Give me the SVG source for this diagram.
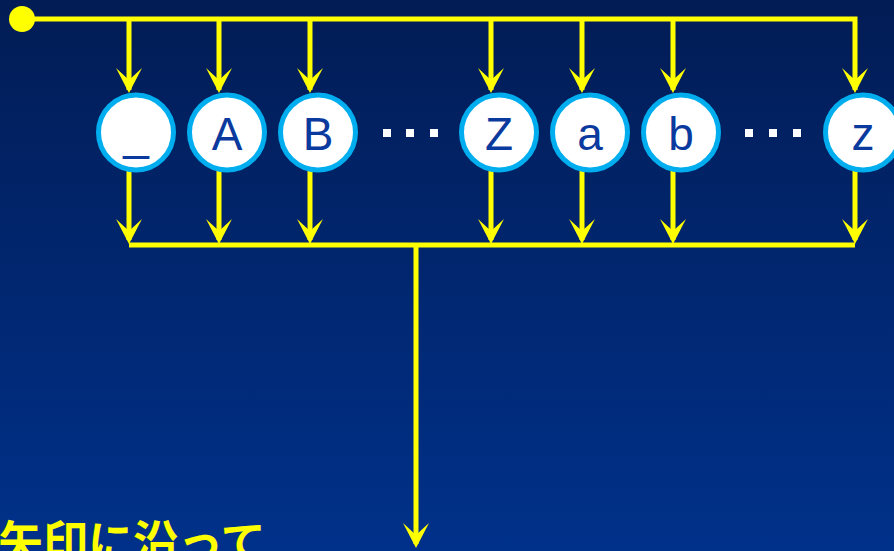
<svg xmlns="http://www.w3.org/2000/svg" width="894" height="551" viewBox="0 0 894 551">
<defs>
<linearGradient id="bg" x1="0" y1="0" x2="0" y2="1">
<stop offset="0" stop-color="#021C55"/>
<stop offset="1" stop-color="#00318A"/>
</linearGradient>
<path id="ah" d="M0,0 L-13,-25 L0,-13 L13,-25 Z" fill="#FFFF00"/>
<style>
.ln{stroke:#FFFF00;stroke-width:5;fill:none;stroke-linecap:butt}
.nd circle{fill:#FFFFFF;stroke:#00AEEF;stroke-width:5}
.nd text{font-family:"Liberation Sans",Arial,sans-serif;font-size:46px;fill:#0A3A9E;text-anchor:middle}
.dot{fill:#FFFFFF}
</style>
</defs>
<rect width="894" height="551" fill="url(#bg)"/>
<g id="connectors">
<circle cx="22" cy="19" r="13" fill="#FFFF00"/>
<polyline class="ln" points="22,19 855,19 855,90"/>
<line class="ln" x1="129" y1="19" x2="129" y2="90"/>
<line class="ln" x1="219" y1="19" x2="219" y2="90"/>
<line class="ln" x1="310" y1="19" x2="310" y2="90"/>
<line class="ln" x1="491" y1="19" x2="491" y2="90"/>
<line class="ln" x1="582" y1="19" x2="582" y2="90"/>
<line class="ln" x1="673" y1="19" x2="673" y2="90"/>
<use href="#ah" x="129" y="93"/>
<use href="#ah" x="219" y="93"/>
<use href="#ah" x="310" y="93"/>
<use href="#ah" x="491" y="93"/>
<use href="#ah" x="582" y="93"/>
<use href="#ah" x="673" y="93"/>
<use href="#ah" x="855" y="93"/>
<line class="ln" x1="129" y1="170" x2="129" y2="240"/>
<line class="ln" x1="219" y1="170" x2="219" y2="240"/>
<line class="ln" x1="310" y1="170" x2="310" y2="240"/>
<line class="ln" x1="491" y1="170" x2="491" y2="240"/>
<line class="ln" x1="582" y1="170" x2="582" y2="240"/>
<line class="ln" x1="673" y1="170" x2="673" y2="240"/>
<line class="ln" x1="855" y1="170" x2="855" y2="240"/>
<use href="#ah" x="129" y="244"/>
<use href="#ah" x="219" y="244"/>
<use href="#ah" x="310" y="244"/>
<use href="#ah" x="491" y="244"/>
<use href="#ah" x="582" y="244"/>
<use href="#ah" x="673" y="244"/>
<use href="#ah" x="855" y="244"/>
<line class="ln" x1="129" y1="245" x2="855" y2="245"/>
<line class="ln" x1="416" y1="245" x2="416" y2="544"/>
<use href="#ah" x="416" y="548"/>
</g>
<g id="node-underscore" class="nd"><circle cx="136" cy="132.5" r="37.5"/><text x="136" y="150">_</text></g>
<g id="node-A" class="nd"><circle cx="227" cy="132.5" r="37.5"/><text x="227" y="150">A</text></g>
<g id="node-B" class="nd"><circle cx="318" cy="132.5" r="37.5"/><text x="318" y="150">B</text></g>
<g id="node-Z" class="nd"><circle cx="499" cy="132.5" r="37.5"/><text x="499" y="150">Z</text></g>
<g id="node-a" class="nd"><circle cx="590" cy="132.5" r="37.5"/><text x="590" y="150">a</text></g>
<g id="node-b" class="nd"><circle cx="681" cy="132.5" r="37.5"/><text x="681" y="150">b</text></g>
<g id="node-z" class="nd"><circle cx="863" cy="132.5" r="37.5"/><text x="863" y="150">z</text></g>
<g id="ellipsis1">
<rect class="dot" x="383" y="129" width="8" height="8"/>
<rect class="dot" x="406" y="129" width="8" height="8"/>
<rect class="dot" x="430" y="129" width="8" height="8"/>
</g>
<g id="ellipsis2">
<rect class="dot" x="745" y="129" width="8" height="8"/>
<rect class="dot" x="769" y="129" width="8" height="8"/>
<rect class="dot" x="793" y="129" width="8" height="8"/>
</g>
<text x="-2" y="559" font-family="'Noto Sans CJK JP','Noto Sans CJK SC',sans-serif" font-size="45" font-weight="bold" fill="#FFFF00">矢印に沿って</text>
</svg>
